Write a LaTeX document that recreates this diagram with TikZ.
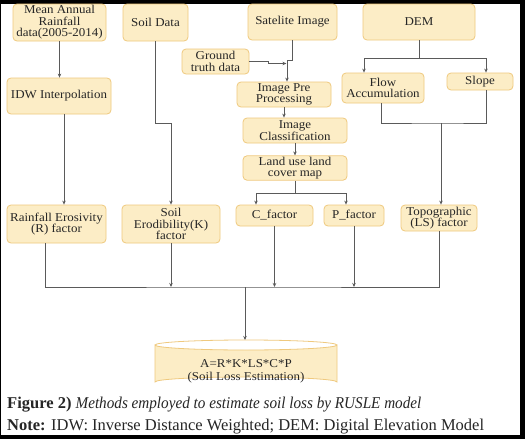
\documentclass[tikz,border=0pt]{standalone}
\usepackage{fontspec}
\setmainfont{Liberation Serif}
\newfontfamily\boxfont[FakeStretch=1.08]{Liberation Serif}
\newfontfamily\capfont[FakeStretch=0.92]{Liberation Serif}
\usetikzlibrary{arrows.meta}
\definecolor{boxfill}{HTML}{FCEDC6}
\definecolor{boxline}{HTML}{EFC97E}
\definecolor{lnk}{HTML}{5A5A5A}
\definecolor{txt}{HTML}{262626}
\tikzset{
  box/.style={draw=boxline, fill=boxfill, rounded corners=4pt, line width=0.8pt,
    align=center, inner sep=1pt, text=txt,
    font=\boxfont\fontsize{12}{11.5}\selectfont},
  link/.style={draw=lnk, line width=0.8pt},
  arr/.style={link, -{Stealth[length=4pt,width=3.5pt]}}
}
\begin{document}
\begin{tikzpicture}[x=1pt,y=-1pt]
\useasboundingbox (0,0) rectangle (525,439);
\fill[black] (0,0) rectangle (525,439);
\fill[white] (1,4) rectangle (520,435);

\node[box, minimum width=93, minimum height=37] (rain) at (59.5,22.5) {Mean Annual\\Rainfall\\data(2005-2014)};
\node[box, minimum width=65, minimum height=37] (soil) at (155.5,22.5) {Soil Data};
\node[box, minimum width=89, minimum height=36] (sat) at (292.5,22) {Satelite Image};
\node[box, minimum width=112, minimum height=36] (dem) at (419,22) {DEM};
\node[box, minimum width=67, minimum height=25] (gt) at (215.5,61.5) {Ground\\truth data};
\node[box, minimum width=104, minimum height=36] (idw) at (59,96) {IDW Interpolation};
\node[box, minimum width=94, minimum height=25] (pre) at (284,94.5) {Image Pre\\Processing};
\node[box, minimum width=82, minimum height=30] (flow) at (383,88) {Flow\\Accumulation};
\node[box, minimum width=66, minimum height=17] (slope) at (480,81.5) {Slope};
\node[box, minimum width=104, minimum height=25] (cls) at (295,130.5) {Image\\Classification};
\node[box, minimum width=104, minimum height=24] (lulc) at (295,168) {Land use land\\cover map};
\node[box, minimum width=77, minimum height=21] (cf) at (274.5,215.5) {C\_factor};
\node[box, minimum width=60, minimum height=21] (pf) at (354,215.5) {P\_factor};
\node[box, minimum width=76, minimum height=26] (ls) at (439,218) {Topographic\\(LS) factor};
\node[box, minimum width=99, minimum height=38] (rf) at (56.5,224) {Rainfall Erosivity\\(R) factor};
\node[box, minimum width=98, minimum height=38] (kf) at (171,224) {Soil\\Erodibility(K)\\factor};

% cylinder
\path[fill=boxfill, draw=boxline, line width=0.8pt]
  (155,345) -- (155,382) arc[start angle=180, end angle=360, x radius=91, y radius=5]
  -- (337,345) arc[start angle=0, end angle=180, x radius=91, y radius=5] -- cycle;
\draw[boxline, line width=0.8pt] (155,345) arc[start angle=180, end angle=360, x radius=91, y radius=5];
\coordinate (cyltop) at (245,340);
\node[text=txt, align=center, font=\boxfont\fontsize{12}{13}\selectfont] (cyl) at (246,371) {A=R*K*LS*C*P\\(Soil Loss Estimation)};

% connectors
\draw[arr] (rain.south) -- (rain.south |- idw.north);
\draw[arr] ([xshift=5]idw.south) -- ([xshift=5]idw.south |- rf.north);
\draw[arr] (soil.south) -- ++(0,82) -| (kf.north);
\coordinate (m1) at (287,60);
\draw[arr] (sat.south) |- (m1) -- (m1 |- pre.north);
\draw[arr] (gt.east) -- ++(19,0) -- ++(0,2) -- ++(18,0);
\draw[arr] (pre.south) -- (pre.south |- cls.north);
\draw[arr] (cls.south) -- (lulc.north);
\draw[link] (lulc.south) -- ++(0,13) coordinate (j2);
\draw[arr] (j2) -| ([xshift=-18.5]cf.north);
\draw[arr] (j2) -| ([xshift=-8]pf.north);
\draw[link] (dem.south) -- ++(0,18) coordinate (j5);
\draw[arr] (j5) -| ([xshift=-19]flow.north);
\draw[arr] (j5) -| ([xshift=6]slope.north);
\coordinate (j3) at (441,123);
\draw[link] ([xshift=-2]flow.south) |- (j3) -| ([xshift=6]slope.south);
\draw[arr] (j3) -- (j3 |- ls.north);
\coordinate (j4) at (245,287);
\draw[link] ([xshift=-11.5]rf.south) |- (j4) -| (ls.south);
\draw[arr] (kf.south) -- (kf.south |- j4);
\draw[arr] (cf.south) -- (cf.south |- j4);
\draw[arr] (pf.south) -- (pf.south |- j4);
\draw[arr] (j4) -- (cyltop);

% caption
\node[anchor=base west, inner sep=0, text=txt, font=\fontsize{16.5}{18}\selectfont] (cap1) at (7,408) {\textbf{Figure 2)} {\capfont\itshape Methods employed to estimate soil loss by RUSLE model}};
\node[anchor=base west, inner sep=0, text=txt, font=\fontsize{16.5}{18}\selectfont] (cap2) at (7,430) {\textbf{Note:} IDW: Inverse Distance Weighted; DEM: Digital Elevation Model};
\end{tikzpicture}
\end{document}
